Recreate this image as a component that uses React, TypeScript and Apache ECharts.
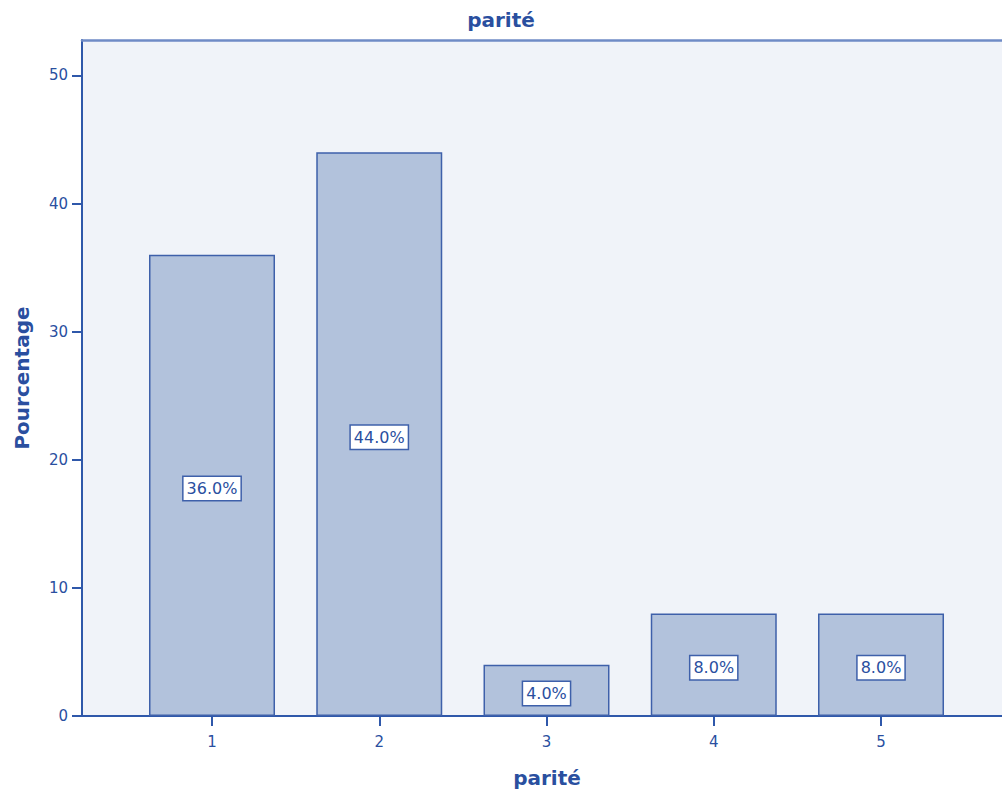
import React, { useEffect, useRef } from "react";
import * as echarts from "echarts";

const categories = [1, 2, 3, 4, 5];
const percentages = [36.0, 44.0, 4.0, 8.0, 8.0];
const yTicks = [0, 10, 20, 30, 40, 50];
const chartTitle = "parité";
const xName = "parité";
const yName = "Pourcentage";

const TEXT = "#2a4f9f";
const AXIS = "#2f58aa";
const FONT = "DejaVu Sans";

export default function App() {
  const ref = useRef<HTMLDivElement>(null);
  useEffect(() => {
    if (!ref.current) return;
    const chart = echarts.init(ref.current, null, { renderer: "svg" });
    chart.setOption({
      animation: false,
      backgroundColor: "#ffffff",
      textStyle: { fontFamily: FONT },
      title: {
        text: chartTitle,
        left: "center",
        top: 5,
        textStyle: { color: TEXT, fontSize: 20, fontWeight: "bold", fontFamily: FONT },
      },
      grid: {
        left: 82,
        top: 40,
        right: 0,
        bottom: 79,
        show: true,
        borderWidth: 0,
        backgroundColor: "#f0f3f9",
      },
      xAxis: [
        {
          type: "value",
          min: 0.2227,
          max: 5.7234,
          name: xName,
          nameLocation: "middle",
          nameGap: 52,
          nameTextStyle: { color: TEXT, fontSize: 20, fontWeight: "bold", fontFamily: FONT, padding: [0, 0, 0, 10] },
          axisLine: { show: true, onZero: false, lineStyle: { color: AXIS, width: 2 } },
          axisTick: { show: true, inside: false, length: 10, customValues: categories, lineStyle: { color: AXIS, width: 2 } },
          axisLabel: {
            customValues: categories,
            color: TEXT,
            fontSize: 15,
            fontFamily: FONT,
            margin: 18,
            formatter: (v: number) => String(v),
          },
          splitLine: { show: false },
        },
        {
          type: "value",
          position: "top",
          min: 0.2227,
          max: 5.7234,
          axisLine: { show: true, onZero: false, lineStyle: { color: "#6f8bc6", width: 2.5 } },
          axisTick: { show: false },
          axisLabel: { show: false },
          splitLine: { show: false },
        },
      ],
      yAxis: {
        type: "value",
        min: 0,
        max: 52.77,
        name: yName,
        nameLocation: "middle",
        nameGap: 50,
        nameTextStyle: { color: TEXT, fontSize: 20, fontWeight: "bold", fontFamily: FONT },
        axisLine: { show: true, onZero: false, lineStyle: { color: AXIS, width: 2 } },
        axisTick: { show: true, inside: false, length: 10, customValues: yTicks, lineStyle: { color: AXIS, width: 2 } },
        axisLabel: {
          customValues: yTicks,
          color: TEXT,
          fontSize: 15,
          fontFamily: FONT,
          margin: 14,
        },
        splitLine: { show: false },
      },
      series: [
        {
          type: "bar",
          xAxisIndex: 0,
          barWidth: 126,
          data: categories.map((c, i) => [c, percentages[i]]),
          itemStyle: { color: "#b2c2dc", borderColor: "#3e60aa", borderWidth: 1.5 },
          label: {
            show: true,
            position: "inside",
            offset: [0, 3],
            formatter: (p: any) => `${Number(p.value[1]).toFixed(1)}%`,
            color: TEXT,
            fontSize: 16,
            fontFamily: FONT,
            backgroundColor: "#ffffff",
            borderColor: "#3e60aa",
            borderWidth: 1.5,
            padding: [4, 3, 3, 3],
          },
        },
      ],
    });
    return () => chart.dispose();
  }, []);
  return (
    <div
      ref={ref}
      style={{ position: "absolute", left: 0, top: 0, width: 1002, height: 795 }}
    />
  );
}
